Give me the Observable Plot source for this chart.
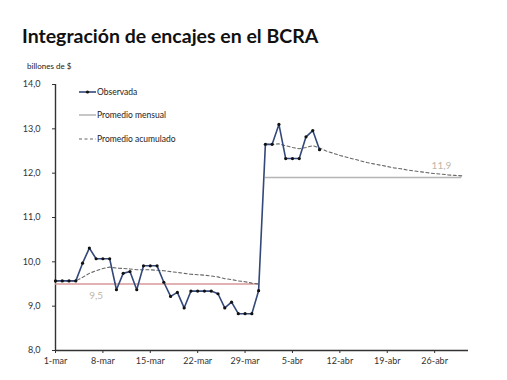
<!DOCTYPE html>
<html><head><meta charset="utf-8">
<script src="https://cdn.jsdelivr.net/npm/d3@7"></script>
<script src="https://cdn.jsdelivr.net/npm/@observablehq/plot@0.6"></script>
<style>
body{margin:0;background:#fff;font-family:Lato,sans-serif;}
#wrap{position:relative;width:507px;height:380px;overflow:hidden;}
#title{position:absolute;left:22px;top:25px;font-size:19.5px;line-height:22px;font-weight:700;color:#111;white-space:nowrap;}
#unit{position:absolute;left:27px;top:61px;font-size:8px;line-height:10px;color:#222;white-space:nowrap;}
#chart{position:absolute;left:0;top:72px;}
#legend{position:absolute;left:79px;top:80px;font-size:8.5px;color:#222;}
.item{display:flex;align-items:center;height:23.5px;white-space:nowrap;}
.item svg{margin-right:1px;}
</style></head>
<body>
<div id="wrap">
  <div id="title">Integración de encajes en el BCRA</div>
  <div id="unit">billones de $</div>
  <div id="chart"></div>
  <div id="legend"></div>
</div>
<script>
// ---- data ----
const marchDays = d3.range(1, 32);
const aprilDays = d3.range(1, 31);
const observedMarch = [9.57,9.57,9.57,9.57,9.97,10.31,10.07,10.07,10.07,9.37,9.74,9.78,9.37,9.91,9.91,9.91,9.54,9.22,9.31,8.96,9.34,9.34,9.34,9.34,9.28,8.96,9.09,8.83,8.83,8.83,9.35];
const observedApril = [12.65,12.65,13.10,12.33,12.33,12.33,12.82,12.96,12.53];
const cumulativeMarch = [9.57,9.57,9.57,9.57,9.65,9.74,9.80,9.85,9.88,9.86,9.85,9.84,9.82,9.82,9.82,9.81,9.80,9.78,9.76,9.74,9.72,9.71,9.70,9.68,9.66,9.62,9.60,9.57,9.55,9.52,9.50];
const cumulativeApril = [12.65,12.65,12.66,12.62,12.58,12.55,12.58,12.62,12.57,12.50,12.45,12.40,12.36,12.32,12.28,12.24,12.21,12.18,12.15,12.12,12.10,12.07,12.05,12.03,12.01,11.99,11.98,11.96,11.95,11.94];
const monthNames = ["mar", "abr"];
const monthlyAverage = [9.5, 11.9];
const monthlyLabelDay = [7, 27];
const yTicks = [8, 9, 10, 11, 12, 13, 14];
const xTickDays = [[2,1],[2,8],[2,15],[2,22],[2,29],[3,5],[3,12],[3,19],[3,26]];
const xTickLabels = ["1-mar","8-mar","15-mar","22-mar","29-mar","5-abr","12-abr","19-abr","26-abr"];
const legendLabels = ["Observada", "Promedio mensual", "Promedio acumulado"];

// ---- build tables ----
const dt = (m, d) => new Date(Date.UTC(2020, m, d));
const observed = [
  ...observedMarch.map((v, i) => ({date: dt(2, marchDays[i]), value: v})),
  ...observedApril.map((v, i) => ({date: dt(3, aprilDays[i]), value: v}))
];
const cumulative = [
  ...cumulativeMarch.map((v, i) => ({month: "mar", date: dt(2, marchDays[i]), value: v})),
  ...cumulativeApril.map((v, i) => ({month: "abr", date: dt(3, aprilDays[i]), value: v}))
];
const monthly = [
  {month: monthNames[0], start: dt(2, 1), end: dt(2, 31), value: monthlyAverage[0], labelDate: dt(2, monthlyLabelDay[0])},
  {month: monthNames[1], start: dt(3, 1), end: dt(3, 30), value: monthlyAverage[1], labelDate: dt(3, monthlyLabelDay[1])}
];
const tickDates = xTickDays.map(([m, d]) => dt(m, d));
const tickLabelMap = new Map(tickDates.map((d, i) => [+d, xTickLabels[i]]));
const xDomain = [dt(2, 1), dt(4, 1)];
const yDomain = [yTicks[0], yTicks[yTicks.length - 1]];
const fmt = v => v.toFixed(1).replace(".", ",");

const navy = "#34497a", red = "#d99898", grey = "#b5b5b5", dash = "#666";

const chart = Plot.plot({
  width: 507, height: 308,
  marginLeft: 55, marginRight: 39, marginTop: 12, marginBottom: 30,
  style: {fontFamily: "Lato, sans-serif", fontSize: "9px", color: "#333", background: "transparent"},
  x: {type: "utc", domain: xDomain},
  y: {domain: yDomain},
  marks: [
    Plot.axisY({ticks: yTicks, tickFormat: fmt, tickSize: 3, tickPadding: 12, label: null, stroke: "#333"}),
    Plot.axisX({ticks: tickDates, tickFormat: d => tickLabelMap.get(+d), tickSize: 3, tickPadding: 4, label: null, stroke: "#333"}),
    Plot.ruleX([xDomain[0]], {stroke: "#333", strokeWidth: 1.4}),
    Plot.ruleY([yDomain[0]], {stroke: "#333", strokeWidth: 1.4}),
    Plot.ruleY(monthly, {y: "value", x1: "start", x2: "end", stroke: d => d.month === "mar" ? red : grey, strokeWidth: 1.5}),
    Plot.line(cumulative, {x: "date", y: "value", z: "month", stroke: dash, strokeWidth: 1.1, strokeDasharray: "3,2.5"}),
    Plot.line(observed, {x: "date", y: "value", stroke: navy, strokeWidth: 1.6}),
    Plot.dot(observed, {x: "date", y: "value", r: 1.6, fill: "#111", stroke: "none"}),
    Plot.text(monthly, {filter: d => d.month === "mar", x: "labelDate", y: "value", text: d => fmt(d.value), dy: 12, fill: "#bfb5aa", fontSize: 10}),
    Plot.text(monthly, {filter: d => d.month === "abr", x: "labelDate", y: "value", text: d => fmt(d.value), dy: -12, fill: "#bfb5aa", fontSize: 10})
  ]
});
document.getElementById("chart").appendChild(chart);

// legend
const swatches = [
  `<svg width="17" height="8"><line x1="0" y1="4" x2="17" y2="4" stroke="${navy}" stroke-width="1.6"/><circle cx="8.5" cy="4" r="1.6" fill="#111"/></svg>`,
  `<svg width="17" height="8"><line x1="0" y1="4" x2="17" y2="4" stroke="${grey}" stroke-width="1.5"/></svg>`,
  `<svg width="17" height="8"><line x1="0" y1="4" x2="17" y2="4" stroke="${dash}" stroke-width="1.1" stroke-dasharray="3,2.5"/></svg>`
];
document.getElementById("legend").innerHTML = legendLabels.map((l, i) => `<div class="item">${swatches[i]}<span>${l}</span></div>`).join("");
</script>
</body></html>
